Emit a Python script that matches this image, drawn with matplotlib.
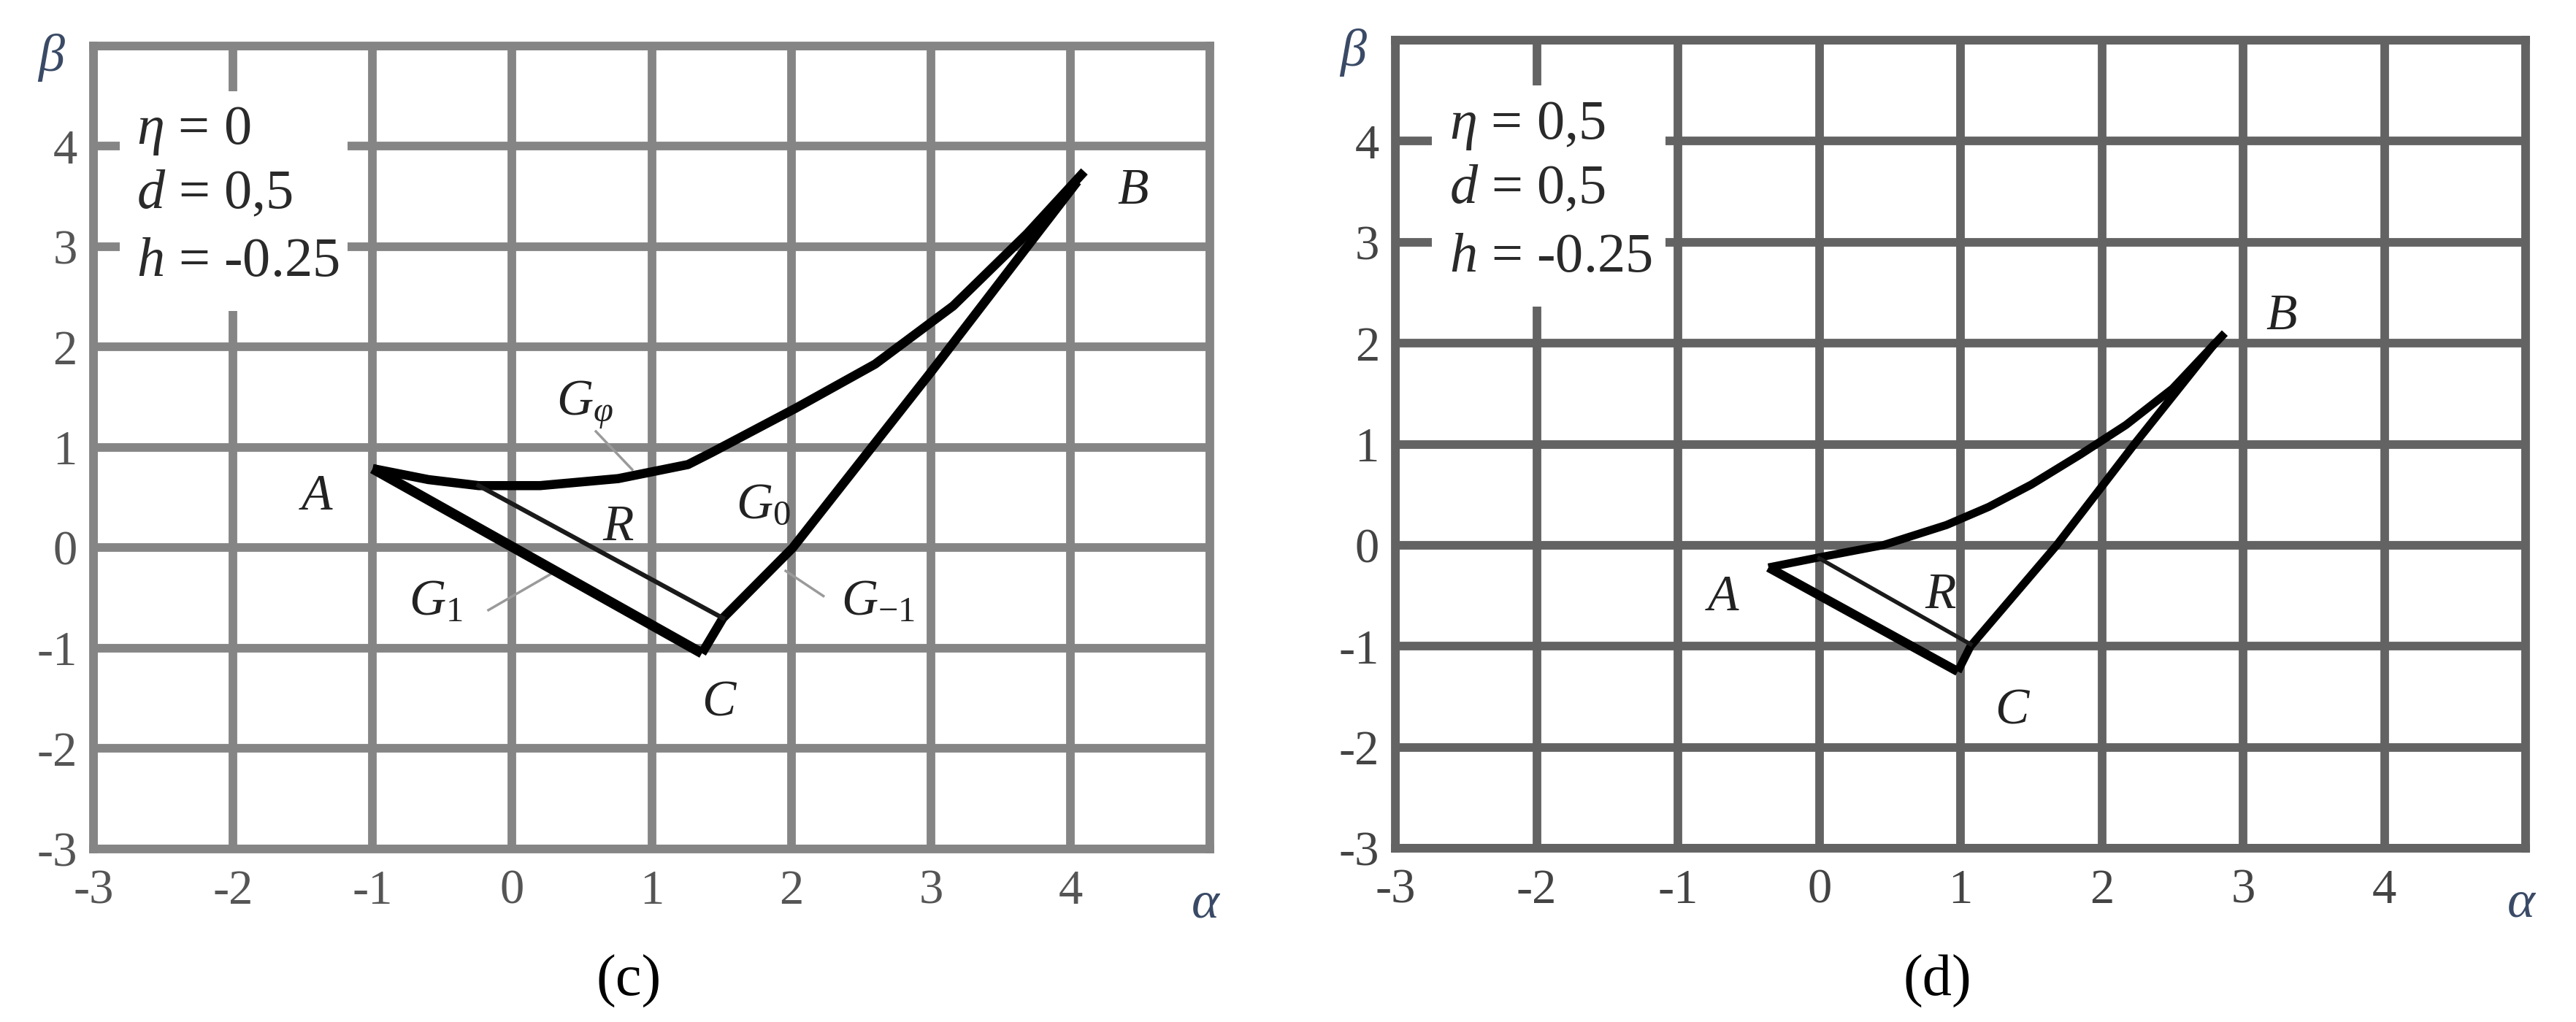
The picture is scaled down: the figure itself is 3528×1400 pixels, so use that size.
import matplotlib
matplotlib.use("Agg")
import matplotlib.pyplot as plt
from matplotlib.patches import Rectangle

plt.rcParams['font.family'] = ['Liberation Serif', 'DejaVu Serif']
plt.rcParams['mathtext.fontset'] = 'custom'
plt.rcParams['mathtext.rm'] = 'Liberation Serif'
plt.rcParams['mathtext.it'] = 'Liberation Serif:italic'

# grid / ticks
grid_vals = [-3, -2, -1, 0, 1, 2, 3, 4, 5]
tick_labels = ['-3', '-2', '-1', '0', '1', '2', '3', '4', '']

# panel (c): eta = 0
c_upper_a = [-1.0, -0.6, -0.24, 0.2, 0.76, 1.26, 1.43, 2.03, 2.6, 3.16, 3.69, 4.1]
c_upper_b = [0.79, 0.68, 0.62, 0.62, 0.69, 0.83, 0.95, 1.39, 1.83, 2.41, 3.13, 3.75]
c_lower_a = [-1.0, 1.36]
c_lower_b = [0.79, -1.05]
c_right_a = [1.36, 1.51, 2.01, 3.0, 3.69, 4.05]
c_right_b = [-1.05, -0.70, 0.0, 1.75, 3.0, 3.65]
c_r_a = [-0.24, 1.51]
c_r_b = [0.62, -0.70]
c_params = ['$\\eta$ = 0', '$d$ = 0,5', '$h$ = -0.25']

# panel (d): eta = 0.5
d_upper_a = [-0.36, 0.0, 0.45, 0.9, 1.2, 1.5, 1.85, 2.17, 2.5, 2.87]
d_upper_b = [-0.22, -0.12, 0.0, 0.2, 0.38, 0.6, 0.9, 1.19, 1.55, 2.1]
d_lower_a = [-0.36, 0.98]
d_lower_b = [-0.22, -1.25]
d_right_a = [0.98, 1.07, 1.68, 2.23, 2.8]
d_right_b = [-1.25, -1.0, 0.0, 1.0, 2.0]
d_r_a = [0.0, 1.07]
d_r_b = [-0.13, -0.98]
d_params = ['$\\eta$ = 0,5', '$d$ = 0,5', '$h$ = -0.25']

fig = plt.figure(figsize=(35.28, 14), dpi=100)
ax_c = fig.add_axes([0.0363, 0.1693, 0.4334, 0.7857])
ax_d = fig.add_axes([0.5417, 0.1700, 0.4388, 0.7907])


def setup(ax, gcol, tcol):
    ax.set_xlim(-3, 5)
    ax.set_ylim(-3, 5)
    ax.set_xticks(grid_vals)
    ax.set_yticks(grid_vals)
    ax.set_xticklabels(tick_labels)
    ax.set_yticklabels(tick_labels)
    ax.tick_params(length=0, labelsize=48, colors=tcol)
    ax.tick_params(axis='x', pad=20)
    ax.tick_params(axis='y', pad=16)
    ax.grid(True, color=gcol, linewidth=8.5)
    for s in ax.spines.values():
        s.set_color(gcol)
        s.set_linewidth(8.5)
    ax.text(-3.3, 4.88, '$\\beta$', fontsize=52, color='#3a4a66',
            ha='center', va='center', clip_on=False)
    ax.text(4.97, -3.55, '$\\alpha$', fontsize=52, color='#3a4a66',
            ha='center', va='center', clip_on=False)


def params_box(ax, x0, x1, lines):
    ax.add_patch(Rectangle((x0, 2.36), x1 - x0, 2.19, facecolor='white',
                           edgecolor='none', zorder=2))
    for yy, s in zip([4.15, 3.52, 2.84], lines):
        ax.text(x0 + 0.12, yy, s, fontsize=55, color='#2a2a2a',
                ha='left', va='center', zorder=3)


lab = dict(fontsize=50, color='#222222', ha='center', va='center', style='italic')

# (c)
setup(ax_c, '#858585', '#555555')
params_box(ax_c, -2.81, -1.18, c_params)
ax_c.plot(c_upper_a, c_upper_b, color='black', lw=9, solid_capstyle='butt', zorder=4)
ax_c.plot(c_lower_a, c_lower_b, color='black', lw=10, solid_capstyle='butt', zorder=4)
ax_c.plot(c_right_a, c_right_b, color='black', lw=9, solid_capstyle='butt', zorder=4)
ax_c.plot(c_r_a, c_r_b, color='#1a1a1a', lw=4.5, zorder=4)
ax_c.plot([0.6, 0.86], [1.16, 0.78], color='#9a9a9a', lw=2.5, zorder=3)
ax_c.plot([-0.17, 0.29], [-0.62, -0.25], color='#9a9a9a', lw=2.5, zorder=3)
ax_c.plot([1.96, 2.23], [-0.23, -0.48], color='#9a9a9a', lw=2.5, zorder=3)
ax_c.text(-1.4, 0.5, 'A', **lab)
ax_c.text(4.45, 3.55, 'B', **lab)
ax_c.text(1.48, -1.55, 'C', **lab)
ax_c.text(0.76, 0.2, 'R', **lab)
ax_c.text(0.52, 1.42, '$G_{\\varphi}$', **lab)
ax_c.text(1.8, 0.42, '$G_0$', **lab)
ax_c.text(-0.55, -0.55, '$G_1$', **lab)
ax_c.text(2.62, -0.55, '$G_{-1}$', **lab)

# (d)
setup(ax_d, '#636363', '#444444')
params_box(ax_d, -2.74, -1.09, d_params)
ax_d.plot(d_upper_a, d_upper_b, color='black', lw=8, solid_capstyle='butt', zorder=4)
ax_d.plot(d_lower_a, d_lower_b, color='black', lw=9, solid_capstyle='butt', zorder=4)
ax_d.plot(d_right_a, d_right_b, color='black', lw=8, solid_capstyle='butt', zorder=4)
ax_d.plot(d_r_a, d_r_b, color='#1a1a1a', lw=4, zorder=4)
ax_d.text(-0.68, -0.52, 'A', **lab)
ax_d.text(0.86, -0.5, 'R', **lab)
ax_d.text(1.36, -1.65, 'C', **lab)
ax_d.text(3.27, 2.26, 'B', **lab)

fig.text(0.244, 0.04, '(c)', fontsize=58, ha='center', va='center')
fig.text(0.752, 0.04, '(d)', fontsize=58, ha='center', va='center')

fig.savefig('out.png', dpi=100)
